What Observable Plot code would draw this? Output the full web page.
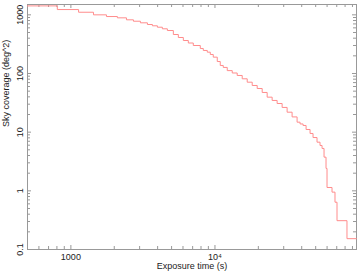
<!DOCTYPE html>
<html>
<head>
<meta charset="utf-8">
<script src="https://cdn.jsdelivr.net/npm/d3@7"></script>
<script src="https://cdn.jsdelivr.net/npm/@observablehq/plot@0.6"></script>
<style>
  html, body { margin: 0; padding: 0; background: #fff; }
  #chart svg { display: block; }
</style>
</head>
<body>
<div id="chart"></div>
<script>
// Exposure time (s) at which each coverage level starts (step curve)
const exposure = [500, 805, 1131, 1435, 1766, 2103, 2431, 2718, 3039, 3398, 3680, 3985, 4315, 4674,
  5143, 5569, 6033, 6533, 7073, 7909, 8298, 8845, 9280, 9732, 10373, 10882, 11417, 12168, 13180,
  14267, 15457, 16742, 18133, 19636, 21272, 23031, 24940, 27006, 29255, 31677, 34300, 37150, 38960,
  40880, 42890, 45710, 47930, 51090, 53600, 55360, 57140, 58990, 59940, 64930, 68080, 70310, 82450, 96000];
// Sky coverage (deg^2)
const coverage = [1420, 1230, 1107, 1000, 935, 889, 822, 778, 731, 684, 650, 615, 578, 540,
  462, 411, 365, 331, 300, 267, 247, 231, 211, 190, 160, 137, 127, 112, 102,
  92.5, 81.2, 71.1, 62.5, 55.5, 47.5, 39.5, 34.7, 30.8, 26.4, 21.9, 18.2, 14.8, 13.8,
  13.0, 11.1, 9.5, 8.1, 6.75, 5.93, 5.28, 3.75, 2.41, 1.14, 0.95, 0.64, 0.31, 0.153, 0.153];

const xMajor = [1000, 10000];
const xMajorLabels = ["1000", "10⁴"];
const xMinor = [600, 700, 800, 900, 2000, 3000, 4000, 5000, 6000, 7000, 8000, 9000,
  20000, 30000, 40000, 50000, 60000, 70000, 80000, 90000];
const yMajor = [0.1, 1, 10, 100, 1000];
const yMajorLabels = ["0.1", "1", "10", "100", "1000"];
const yMinor = [0.2, 0.3, 0.4, 0.5, 0.6, 0.7, 0.8, 0.9, 2, 3, 4, 5, 6, 7, 8, 9,
  20, 30, 40, 50, 60, 70, 80, 90, 200, 300, 400, 500, 600, 700, 800, 900];

const xTitle = "Exposure time (s)";
const yTitle = "Sky coverage (deg^2)";

const data = exposure.map((t, i) => ({t, v: coverage[i]}));

const W = 357, H = 271;
const mL = 27, mR = 1, mT = 4, mB = 22;
const pw = W - mL - mR, ph = H - mT - mB;
const tickCol = "#999";
const majLen = 4, minLen = 3;

const chart = Plot.plot({
  width: W,
  height: H,
  marginLeft: mL,
  marginRight: mR,
  marginTop: mT,
  marginBottom: mB,
  style: {fontFamily: "'Liberation Sans', Arial, sans-serif", fontSize: "9px", background: "#fff", color: "#222"},
  x: {type: "log", domain: [500, 96000], axis: null},
  y: {type: "log", domain: [0.1, 1500], axis: null},
  marks: [
    // ticks, bottom & top
    Plot.tickX(xMajor, {x: d => d, stroke: tickCol, insetTop: ph - majLen}),
    Plot.tickX(xMinor, {x: d => d, stroke: tickCol, insetTop: ph - minLen}),
    Plot.tickX(xMajor, {x: d => d, stroke: tickCol, insetBottom: ph - majLen}),
    Plot.tickX(xMinor, {x: d => d, stroke: tickCol, insetBottom: ph - minLen}),
    // ticks, left & right
    Plot.tickY(yMajor, {y: d => d, stroke: tickCol, insetRight: pw - majLen}),
    Plot.tickY(yMinor, {y: d => d, stroke: tickCol, insetRight: pw - minLen}),
    Plot.tickY(yMajor, {y: d => d, stroke: tickCol, insetLeft: pw - majLen}),
    Plot.tickY(yMinor, {y: d => d, stroke: tickCol, insetLeft: pw - minLen}),
    Plot.frame({stroke: tickCol}),
    Plot.line(data, {x: "t", y: "v", curve: "step-after", stroke: "#ff8c8c", strokeWidth: 1}),
    // tick labels
    Plot.text(xMajor, {x: d => d, frameAnchor: "bottom", dy: 8, text: (d, i) => xMajorLabels[i], lineAnchor: "middle", fill: "#222"}),
    Plot.text(yMajor, {y: d => d, frameAnchor: "left", dx: -7, rotate: -90, text: (d, i) => yMajorLabels[i], textAnchor: "middle", lineAnchor: "middle", fill: "#222"}),
    // axis titles
    Plot.text([xTitle], {frameAnchor: "bottom", dy: 17, text: d => d, lineAnchor: "middle", fill: "#222"}),
    Plot.text([yTitle], {frameAnchor: "left", dx: -21, rotate: -90, text: d => d, lineAnchor: "middle", fill: "#222"})
  ]
});
document.getElementById("chart").appendChild(chart);
</script>
</body>
</html>
